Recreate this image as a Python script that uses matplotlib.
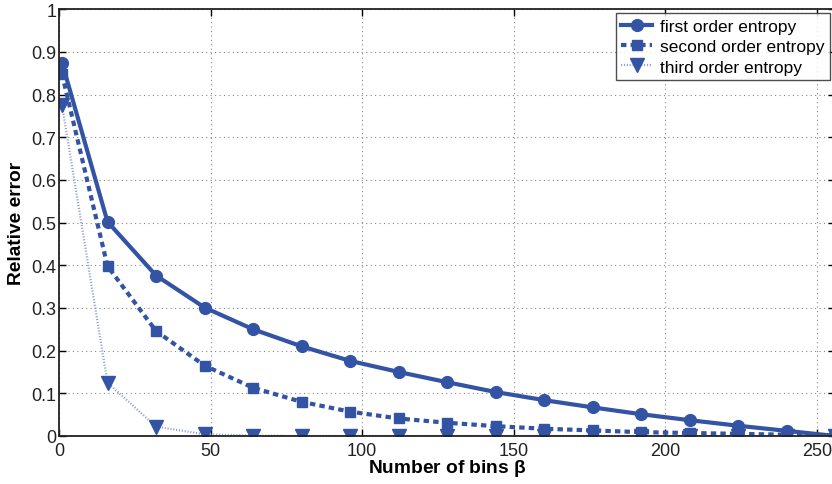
import matplotlib
matplotlib.use('Agg')
import matplotlib.pyplot as plt

plt.rcParams['font.family'] = ['Liberation Sans', 'DejaVu Sans']

bins = [1, 16, 32, 48, 64, 80, 96, 112, 128, 144, 160, 176, 192, 208, 224, 240, 256]
first = [0.875, 0.502, 0.376, 0.301, 0.250, 0.210, 0.176, 0.150, 0.126, 0.103,
         0.084, 0.067, 0.051, 0.037, 0.024, 0.012, 0.0]
second = [0.848, 0.398, 0.246, 0.165, 0.113, 0.080, 0.057, 0.041, 0.031, 0.023,
          0.017, 0.013, 0.009, 0.007, 0.005, 0.003, 0.001]
third = [0.775, 0.125, 0.022, 0.004, 0.001, 0.0, 0.0, 0.0, 0.0, 0.0,
         0.0, 0.0, 0.0, 0.0, 0.0, 0.0, 0.0]

col = '#3353a5'
light = '#8e9fd3'

fig = plt.figure(figsize=(8.32, 4.85), dpi=100)
ax = fig.add_axes([0.0709, 0.099, 0.933, 0.880])

ax.plot(bins, first, '-', color=col, lw=3, marker='o', ms=8.5, label='first order entropy')
ax.plot(bins, second, color=col, lw=3, ls=(0, (1.3, 1.0)), marker='s', ms=7.5,
        label='second order entropy')
ax.plot(bins, third, color=light, lw=1.6, ls=(0, (0.5, 0.8)), marker='v', ms=10,
        markerfacecolor=col, markeredgecolor=col, label='third order entropy')

ax.set_xlim(0, 256)
ax.set_ylim(0, 1)
ax.set_xticks([0, 50, 100, 150, 200, 250])
ax.set_yticks([i / 10 for i in range(11)])
ax.set_yticklabels(['0', '0.1', '0.2', '0.3', '0.4', '0.5', '0.6', '0.7', '0.8', '0.9', '1'])
ax.tick_params(direction='in', labelsize=13, length=5, width=1, top=True, right=True, pad=2,
               labelcolor='#222222')
ax.tick_params(axis='x', pad=4)
ax.grid(True, ls=(0, (1, 3)), color='#888888', lw=0.8)
for s in ax.spines.values():
    s.set_linewidth(1.3)
    s.set_color('#222222')

ax.set_xlabel(r'Number of bins $\mathregular{\beta}$', fontsize=13.8, fontweight='bold')
ax.xaxis.set_label_coords(0.5, -0.05)
ax.set_ylabel('Relative error', fontsize=13.8, fontweight='bold')
ax.yaxis.set_label_coords(-0.044, 0.5)

leg = ax.legend(loc='upper right', bbox_to_anchor=(0.993, 0.99), fontsize=12.5,
                frameon=True, fancybox=False, edgecolor='#222222', handlelength=1.8,
                handletextpad=0.45, borderpad=0.3, labelspacing=0.3, borderaxespad=0)
leg.get_frame().set_linewidth(1.0)

fig.savefig('out.png', dpi=100)
